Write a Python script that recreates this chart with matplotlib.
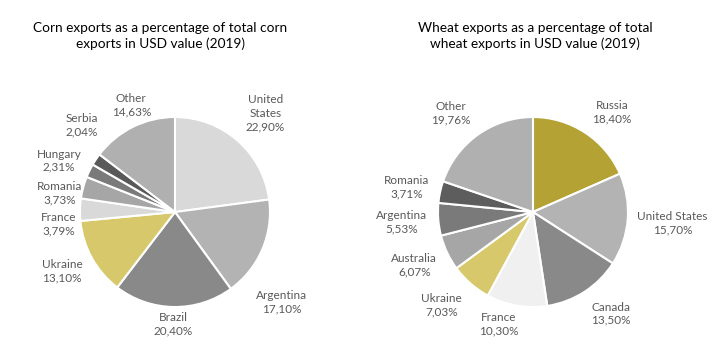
import matplotlib.pyplot as plt

plt.rcParams['font.family'] = ['Lato', 'DejaVu Sans']

# Corn data
corn_countries = ['United\nStates', 'Argentina', 'Brazil', 'Ukraine', 'France',
                  'Romania', 'Hungary', 'Serbia', 'Other']
corn_pct = [22.90, 17.10, 20.40, 13.10, 3.79, 3.73, 2.31, 2.04, 14.63]
corn_colors = ['#d9d9d9', '#b3b3b3', '#898989', '#d6c86b', '#d9d9d9',
               '#a6a6a6', '#7a7a7a', '#595959', '#b0b0b0']

# Wheat data
wheat_countries = ['Russia', 'United States', 'Canada', 'France', 'Ukraine',
                   'Australia', 'Argentina', 'Romania', 'Other']
wheat_pct = [18.40, 15.70, 13.50, 10.30, 7.03, 6.07, 5.53, 3.71, 19.76]
wheat_colors = ['#b4a334', '#b3b3b3', '#898989', '#f0f0f0', '#d6c86b',
                '#a6a6a6', '#7a7a7a', '#5d5d5d', '#b0b0b0']

# label offsets from pie centre, in units of the radius
corn_label_pos = [(0.95, 1.04), (1.12, -0.95), (-0.02, -1.18), (-1.19, -0.62),
                  (-1.22, -0.13), (-1.21, 0.20), (-1.22, 0.54), (-0.98, 0.91),
                  (-0.46, 1.12)]
wheat_label_pos = [(0.83, 1.05), (1.47, -0.12), (0.82, -1.07), (-0.36, -1.18),
                   (-0.96, -0.98), (-1.25, -0.56), (-1.38, -0.11), (-1.33, 0.26),
                   (-0.86, 1.04)]


def fmt(v):
    return f'{v:.2f}'.replace('.', ',') + '%'


def draw_pie(ax, names, vals, colors, pos):
    ax.pie(vals, colors=colors, startangle=90, counterclock=False,
           wedgeprops=dict(edgecolor='white', linewidth=1.5))
    for name, v, (x, y) in zip(names, vals, pos):
        ax.text(x, y, name + '\n' + fmt(v), ha='center', va='center',
                fontsize=8.5, color='#595959', linespacing=1.25)
    ax.set_xlim(-1, 1)
    ax.set_ylim(-1, 1)
    ax.set_aspect('equal')
    ax.axis('off')


fig = plt.figure(figsize=(7.25, 3.56), dpi=100)
ax1 = fig.add_axes([0.1103, 0.1376, 0.2621, 0.5337])
ax2 = fig.add_axes([0.6041, 0.1376, 0.2621, 0.5337])

draw_pie(ax1, corn_countries, corn_pct, corn_colors, corn_label_pos)
draw_pie(ax2, wheat_countries, wheat_pct, wheat_colors, wheat_label_pos)

fig.text(0.2207, 0.899, 'Corn exports as a percentage of total corn\nexports in USD value (2019)',
         ha='center', va='center', fontsize=9.8, color='black', linespacing=1.35)
fig.text(0.738, 0.899, 'Wheat exports as a percentage of total\nwheat exports in USD value (2019)',
         ha='center', va='center', fontsize=9.8, color='black', linespacing=1.35)

fig.savefig('out.png', dpi=100)
